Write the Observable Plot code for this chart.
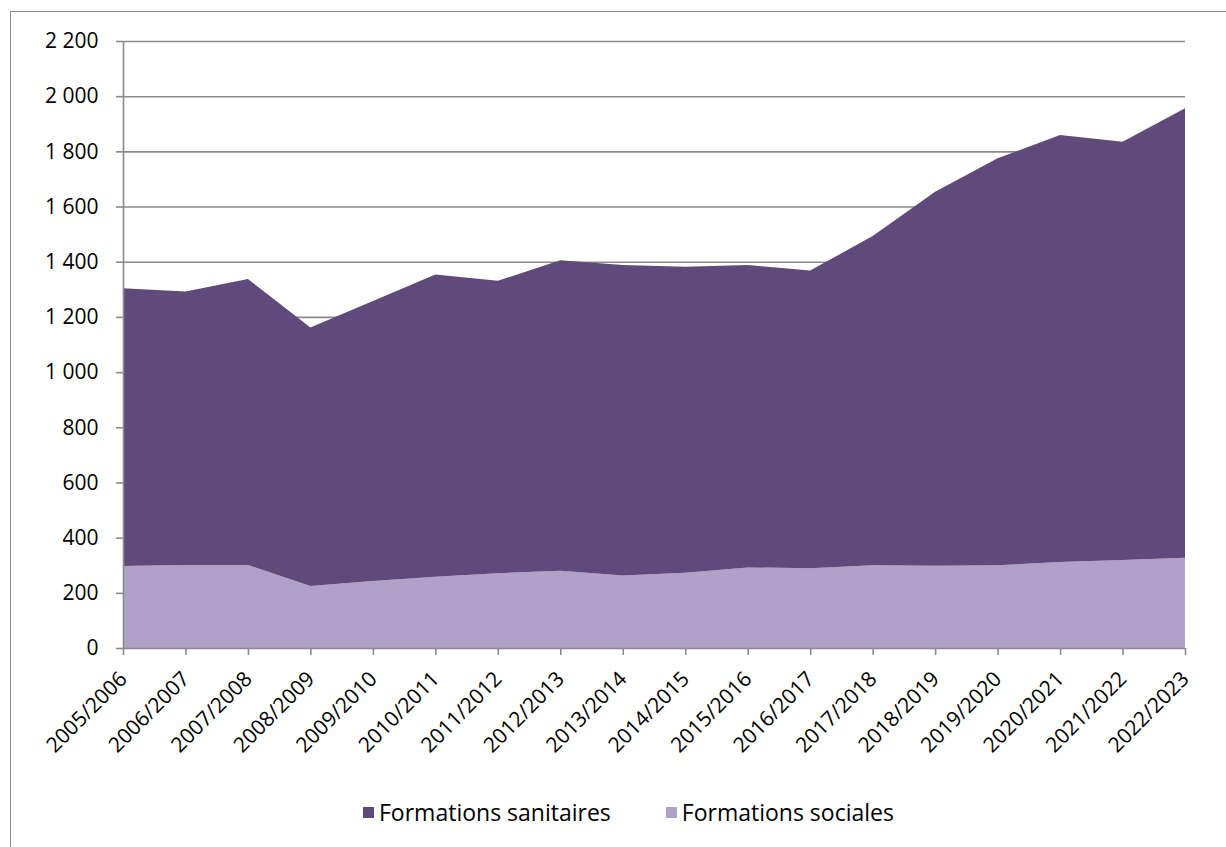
<!DOCTYPE html>
<html>
<head>
<meta charset="utf-8">
<script src="https://cdn.jsdelivr.net/npm/d3@7"></script>
<script src="https://cdn.jsdelivr.net/npm/@observablehq/plot@0.6"></script>
<style>
  html, body { margin: 0; padding: 0; background: #fff; }
  body { width: 1226px; height: 847px; position: relative; overflow: hidden; font-family: "Open Sans", sans-serif; }
  #frame { position: absolute; left: 10px; top: 11px; width: 1240px; height: 900px; border: 1.5px solid #8a8a8a; box-sizing: border-box; }
  #chart { position: absolute; left: 0; top: 0; }
  #legend { position: absolute; top: 796px; left: 363px; display: flex; align-items: center; font-size: 23px; line-height: 32px; color: #000; }
  .item { display: flex; align-items: center; margin-right: 55px; }
  .sw { width: 11px; height: 11px; margin-right: 5px; }
</style>
</head>
<body>
<div id="frame"></div>
<div id="chart"></div>
<div id="legend"></div>
<script>
const years = ["2005/2006","2006/2007","2007/2008","2008/2009","2009/2010","2010/2011","2011/2012","2012/2013","2013/2014","2014/2015","2015/2016","2016/2017","2017/2018","2018/2019","2019/2020","2020/2021","2021/2022","2022/2023"];
const sociales = [297, 301, 301, 225, 243, 258, 271, 280, 263, 273, 292, 289, 300, 298, 300, 312, 319, 327];
const sanitaires = [1007, 991, 1036, 937, 1015, 1096, 1060, 1125, 1125, 1109, 1096, 1079, 1193, 1356, 1475, 1547, 1516, 1629];
const seriesNames = ["Formations sanitaires", "Formations sociales"];
const seriesColors = ["#604a7b", "#b1a0c7"];
const yTicks = [0, 200, 400, 600, 800, 1000, 1200, 1400, 1600, 1800, 2000, 2200];

const data = [];
years.forEach((y, i) => {
  data.push({year: y, series: "Formations sociales", value: sociales[i]});
  data.push({year: y, series: "Formations sanitaires", value: sanitaires[i]});
});

const fmt = d => d3.format(",")(d).replace(/,/g, " ");
const gridColor = "#8a8a8a";

const plot = Plot.plot({
  width: 1226,
  height: 780,
  marginLeft: 123,
  marginRight: 41,
  marginTop: 41,
  marginBottom: 132,
  style: {fontFamily: "Open Sans, sans-serif", fontSize: "21px", background: "transparent", color: "#000"},
  x: {type: "point", domain: years, padding: 0, round: false},
  y: {domain: [0, 2200]},
  color: {domain: seriesNames, range: seriesColors},
  marks: [
    Plot.ruleY(yTicks.slice(1), {stroke: gridColor, strokeWidth: 1.6}),
    Plot.areaY(data, {x: "year", y: "value", fill: "series", order: ["Formations sociales", "Formations sanitaires"]}),
    Plot.ruleX([years[0]], {y1: 0, y2: 2200, stroke: gridColor, strokeWidth: 1.6}),
    Plot.ruleY([0], {stroke: gridColor, strokeWidth: 1.6}),
    Plot.axisY(yTicks, {tickSize: 7, tickPadding: 18, tickFormat: fmt, stroke: gridColor, strokeWidth: 1.6, fill: "#000", fontSize: 21, label: null}),
    Plot.axisX(years, {tickSize: 7, tickPadding: 20, tickRotate: -45, stroke: gridColor, strokeWidth: 1.6, fill: "#000", fontSize: 21, label: null})
  ]
});
document.getElementById("chart").appendChild(plot);

const legend = document.getElementById("legend");
seriesNames.forEach((n, i) => {
  const it = document.createElement("div");
  it.className = "item";
  const sw = document.createElement("div");
  sw.className = "sw";
  sw.style.background = seriesColors[i];
  const t = document.createElement("span");
  t.textContent = n;
  it.appendChild(sw); it.appendChild(t);
  legend.appendChild(it);
});
</script>
</body>
</html>
